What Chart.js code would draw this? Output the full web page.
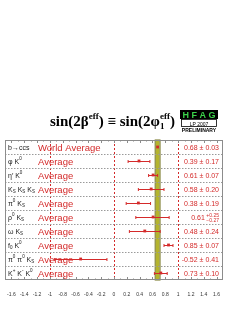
<!DOCTYPE html>
<html lang="en">
<head>
    <meta charset="UTF-8">
    <title>sin(2beta eff)</title>
    <script src="https://cdn.jsdelivr.net/npm/chart.js@4.4.0/dist/chart.umd.min.js"></script>
    <style>
        html, body { margin: 0; padding: 0; background: #fff; }
        #wrap { width: 247px; height: 319px; }
    </style>
</head>
<body>
    <div id="wrap"><canvas id="c" width="247" height="319"></canvas></div>

    <script>
        // Decay modes, "_" = subscript, "^" = superscript
        const MODES = ['b\u2192ccs', '\u03c6 K^0', '\u03b7\u2032 K^0', 'K_S K_S K_S', '\u03c0^0 K_S',
                       '\u03c1^0 K_S', '\u03c9 K_S', 'f_0 K^0', '\u03c0^0 \u03c0^0 K_S', 'K^+ K^- K^0'];
        const AVG_LABELS = ['World Average', 'Average', 'Average', 'Average', 'Average',
                            'Average', 'Average', 'Average', 'Average', 'Average'];
        const VALUES = [0.68, 0.39, 0.61, 0.58, 0.38, 0.61, 0.48, 0.85, -0.52, 0.73];
        const ERR_HI = [0.03, 0.17, 0.07, 0.20, 0.19, 0.25, 0.24, 0.07, 0.41, 0.10];
        const ERR_LO = [0.03, 0.17, 0.07, 0.20, 0.19, 0.27, 0.24, 0.07, 0.41, 0.10];
        const X_TICKS = [-1.6, -1.4, -1.2, -1, -0.8, -0.6, -0.4, -0.2, 0, 0.2, 0.4, 0.6, 0.8, 1, 1.2, 1.4, 1.6];
        const REF_LINES = [-1, 0, 1];

        const RED = '#d42a2a';
        const SANS = '"Liberation Sans", Arial, sans-serif';
        const SERIF = '"Liberation Serif", "Times New Roman", serif';

        // draws text with simple _x / ^x markup, returns end x
        function drawMarked(ctx, str, x, y, size, color) {
            ctx.fillStyle = color;
            ctx.textAlign = 'left';
            ctx.textBaseline = 'alphabetic';
            let i = 0;
            while (i < str.length) {
                let ch = str[i];
                if ((ch === '_' || ch === '^') && i + 1 < str.length) {
                    let s = str[i + 1];
                    ctx.font = (size * 0.65) + 'px ' + SANS;
                    ctx.fillText(s, x, ch === '_' ? y + size * 0.25 : y - size * 0.45);
                    x += ctx.measureText(s).width;
                    i += 2;
                } else {
                    ctx.font = size + 'px ' + SANS;
                    ctx.fillText(ch, x, y);
                    x += ctx.measureText(ch).width;
                    i += 1;
                }
            }
            return x;
        }

        function fmt(v) { return v.toFixed(2); }

        const hfagPlugin = {
            id: 'hfag',
            beforeDatasetsDraw(chart) {
                const ctx = chart.ctx;
                const area = chart.chartArea;
                const xs = chart.scales.x;
                const ys = chart.scales.y;
                ctx.save();

                // world average band
                const b0 = xs.getPixelForValue(VALUES[0] - ERR_LO[0]);
                const b1 = xs.getPixelForValue(VALUES[0] + ERR_HI[0]);
                ctx.fillStyle = '#b4b42e';
                ctx.fillRect(b0, area.top, b1 - b0, area.bottom - area.top);
                ctx.strokeStyle = '#70701c';
                ctx.lineWidth = 1;
                ctx.strokeRect(b0 - 0.5, area.top, b1 - b0 + 1, area.bottom - area.top);

                // reference lines
                ctx.strokeStyle = RED;
                ctx.setLineDash([2, 2]);
                REF_LINES.forEach(v => {
                    const px = Math.round(xs.getPixelForValue(v)) + 0.5;
                    ctx.beginPath();
                    ctx.moveTo(px, area.top);
                    ctx.lineTo(px, area.bottom);
                    ctx.stroke();
                });

                // row separators
                ctx.strokeStyle = '#9a9a9a';
                ctx.setLineDash([1.5, 1.5]);
                for (let i = 0; i < MODES.length - 1; i++) {
                    const py = Math.round(ys.getPixelForValue(i + 0.5)) + 0.5;
                    ctx.beginPath();
                    ctx.moveTo(area.left, py);
                    ctx.lineTo(area.right, py);
                    ctx.stroke();
                }
                ctx.setLineDash([]);

                // error bars
                ctx.strokeStyle = RED;
                ctx.lineWidth = 1;
                for (let i = 1; i < VALUES.length; i++) {
                    const py = Math.round(ys.getPixelForValue(i)) + 0.5;
                    const l = xs.getPixelForValue(VALUES[i] - ERR_LO[i]);
                    const r = xs.getPixelForValue(VALUES[i] + ERR_HI[i]);
                    ctx.beginPath();
                    ctx.moveTo(l, py); ctx.lineTo(r, py);
                    ctx.moveTo(l, py - 1.5); ctx.lineTo(l, py + 1.5);
                    ctx.moveTo(r, py - 1.5); ctx.lineTo(r, py + 1.5);
                    ctx.stroke();
                }

                // frame and ticks
                ctx.strokeStyle = '#8c8c8c';
                ctx.lineWidth = 1;
                ctx.strokeRect(area.left + 0.5, area.top + 0.5, area.right - area.left - 1, area.bottom - area.top - 1);
                ctx.beginPath();
                for (let v = -1.6; v <= 1.61; v += 0.1) {
                    const px = Math.round(xs.getPixelForValue(v)) + 0.5;
                    const major = Math.abs(Math.round(v * 10)) % 2 === 0;
                    const len = major ? 3 : 1.5;
                    ctx.moveTo(px, area.bottom); ctx.lineTo(px, area.bottom - len);
                    ctx.moveTo(px, area.top); ctx.lineTo(px, area.top + len);
                }
                ctx.stroke();
                ctx.restore();
            },
            afterDraw(chart) {
                const ctx = chart.ctx;
                const ys = chart.scales.y;
                ctx.save();

                for (let i = 0; i < MODES.length; i++) {
                    const py = ys.getPixelForValue(i);
                    drawMarked(ctx, MODES[i], 8, py + 2.5, 7, '#222');

                    ctx.font = '9.5px ' + SANS;
                    ctx.fillStyle = RED;
                    ctx.textAlign = 'left';
                    ctx.fillText(AVG_LABELS[i], 38, py + 3.5);

                    ctx.font = '7px ' + SANS;
                    if (ERR_HI[i] === ERR_LO[i]) {
                        ctx.textAlign = 'right';
                        ctx.fillText(fmt(VALUES[i]) + ' \u00b1 ' + fmt(ERR_HI[i]), 219, py + 2.5);
                    } else {
                        ctx.font = '5px ' + SANS;
                        ctx.textAlign = 'right';
                        ctx.fillText('+' + fmt(ERR_HI[i]), 219, py - 0.5);
                        ctx.fillText('\u2212' + fmt(ERR_LO[i]), 219, py + 5);
                        const w = ctx.measureText('+' + fmt(ERR_HI[i])).width;
                        ctx.font = '7px ' + SANS;
                        ctx.fillText(fmt(VALUES[i]), 219 - w - 1.5, py + 2.5);
                    }
                }

                // title
                ctx.fillStyle = '#000';
                ctx.textAlign = 'left';
                const big = 'bold 15px ' + SERIF;
                const small = 'bold 9px ' + SERIF;
                let x = 50, y = 126;
                ctx.font = big; ctx.fillText('sin(2\u03b2', x, y); x += ctx.measureText('sin(2\u03b2').width;
                ctx.font = small; ctx.fillText('eff', x, y - 7); x += ctx.measureText('eff').width;
                ctx.font = big; ctx.fillText(') \u2261 sin(2\u03c6', x, y); x += ctx.measureText(') \u2261 sin(2\u03c6').width;
                ctx.font = small; ctx.fillText('eff', x, y - 7); ctx.fillText('1', x, y + 3);
                x += ctx.measureText('eff').width;
                ctx.font = big; ctx.fillText(')', x, y);

                // HFAG logo
                ctx.fillStyle = '#000';
                ctx.fillRect(180, 110, 38, 9);
                ctx.fillStyle = '#3bd24a';
                ctx.font = 'bold 9px ' + SANS;
                ctx.textAlign = 'center';
                ctx.fillText('H F A G', 199, 118);
                ctx.strokeStyle = '#000';
                ctx.lineWidth = 0.8;
                ctx.strokeRect(181.5, 119.5, 35, 7);
                ctx.fillStyle = '#000';
                ctx.font = '5px ' + SANS;
                ctx.fillText('LP 2007', 199, 125.5);
                ctx.font = 'bold 5px ' + SANS;
                ctx.fillText('PRELIMINARY', 199, 132);
                ctx.restore();
            }
        };

        const points = VALUES.map((v, i) => ({ x: v, y: i }));

        new Chart(document.getElementById('c'), {
            type: 'scatter',
            data: {
                datasets: [{
                    data: points,
                    pointStyle: 'rect',
                    pointRadius: 2,
                    backgroundColor: RED,
                    borderColor: RED,
                    borderWidth: 0
                }]
            },
            options: {
                responsive: false,
                animation: false,
                events: [],
                layout: { padding: { left: 5, right: 24, top: 140, bottom: 17 } },
                plugins: { legend: { display: false }, tooltip: { enabled: false } },
                scales: {
                    x: {
                        type: 'linear',
                        min: -1.7,
                        max: 1.7,
                        afterBuildTicks: s => { s.ticks = X_TICKS.map(v => ({ value: v })); },
                        grid: { display: false },
                        border: { display: false },
                        ticks: {
                            padding: 4,
                            color: '#333',
                            font: { size: 5, family: SANS },
                            maxRotation: 0,
                            autoSkip: false,
                            callback: v => String(Math.round(v * 10) / 10)
                        }
                    },
                    y: {
                        type: 'linear',
                        display: false,
                        reverse: true,
                        min: -0.5,
                        max: 9.5
                    }
                }
            },
            plugins: [hfagPlugin]
        });
    </script>
</body>
</html>
